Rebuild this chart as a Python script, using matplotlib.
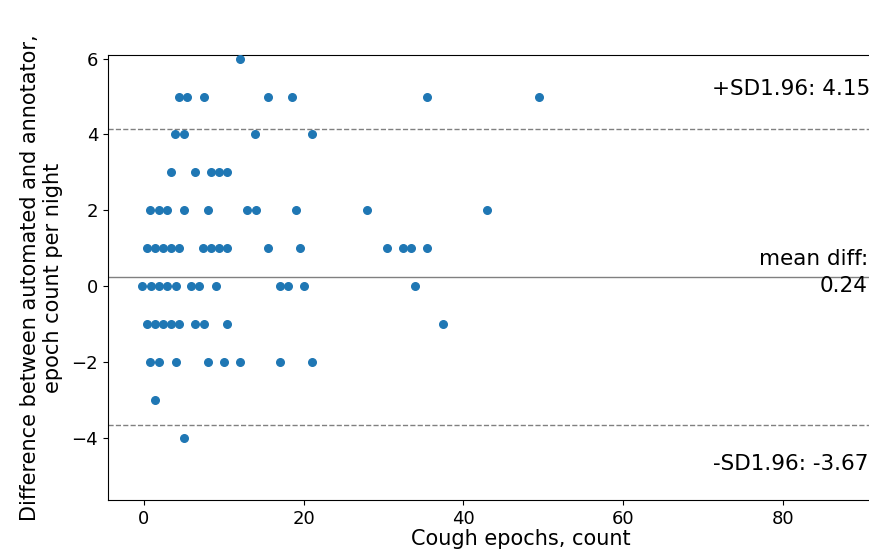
import numpy as np
import matplotlib.pyplot as plt

# points grouped by difference value (y): x = cough epochs
rows = {
    6: [12.0],
    5: [4.4, 5.4, 7.5, 15.5, 18.5, 35.5, 49.5],
    4: [3.9, 5.0, 13.9, 21.0],
    3: [3.4, 6.4, 8.4, 9.4, 10.4],
    2: [0.8, 1.9, 2.9, 5.0, 8.0, 12.9, 14.0, 19.1, 28.0, 43.0],
    1: [0.4, 1.4, 2.4, 3.4, 4.4, 7.4, 8.4, 9.4, 10.4, 15.5, 19.5, 30.5, 32.5, 33.5, 35.5],
    0: [-0.2, 0.9, 1.9, 2.9, 4.0, 5.9, 6.9, 9.0, 17.0, 18.0, 20.0, 34.0],
    -1: [0.4, 1.4, 2.4, 3.4, 4.4, 6.4, 7.5, 10.4, 37.5],
    -2: [0.8, 1.9, 4.0, 8.0, 10.0, 12.0, 17.0, 21.0],
    -3: [1.4],
    -4: [5.0],
}
mean_diff = 0.24
sd_upper = 4.15
sd_lower = -3.67

x = np.concatenate([v for v in rows.values()])
y = np.concatenate([[k] * len(v) for k, v in rows.items()])

plt.rcParams["font.size"] = 13
fig = plt.figure(figsize=(8.7, 5.6), dpi=100)
ax = fig.add_axes([0.124, 0.107, 0.95, 0.795])
ax.scatter(x, y, s=30, color="#1f77b4", zorder=3)
ax.axhline(mean_diff, color="gray", lw=1)
ax.axhline(sd_upper, color="gray", lw=1, ls="--")
ax.axhline(sd_lower, color="gray", lw=1, ls="--")
ax.set_xlim(-4.5, 99)
ax.set_ylim(-5.65, 6.1)
ax.set_xticks([0, 20, 40, 60, 80])
ax.set_yticks([-4, -2, 0, 2, 4, 6])
ax.set_xlabel("Cough epochs, count", fontsize=15, labelpad=1)
ax.set_ylabel("Difference between automated and annotator,\nepoch count per night",
              fontsize=15, labelpad=6)

ax.text(71.2, 5.05, "+SD1.96: 4.15", fontsize=15.5)
ax.text(90.7, 0.55, "mean diff:", fontsize=15.5, ha="right")
ax.text(90.7, -0.15, "0.24", fontsize=15.5, ha="right")
ax.text(71.3, -4.85, "-SD1.96: -3.67", fontsize=15.5)

fig.savefig("out.png", dpi=100)
